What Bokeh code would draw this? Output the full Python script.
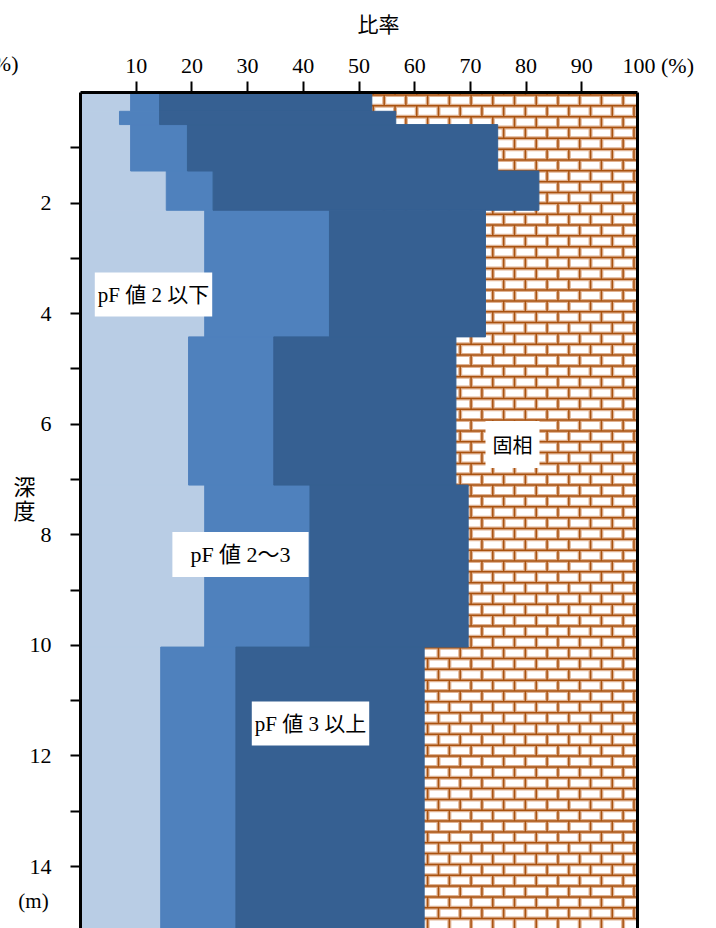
import numpy as np
from bokeh.plotting import figure
from bokeh.models import Range1d, FixedTicker, LinearAxis, Label
from bokeh.embed import file_html
from bokeh.resources import INLINE

# ---------------- data ----------------
depth_top    = [0.00, 0.34, 0.58, 1.42, 2.13, 4.42, 7.10, 10.03]
depth_bottom = [0.34, 0.58, 1.42, 2.13, 4.42, 7.10, 10.03, 15.50]
pf_le2   = [9.0, 7.0, 9.0, 15.4, 22.3, 19.4, 22.3, 14.4]    # pF 値 2 以下
pf_2to3  = [5.2, 7.2, 10.2, 8.4, 22.4, 15.3, 18.9, 13.5]    # pF 値 2～3
pf_ge3   = [38.1, 42.4, 55.7, 58.5, 28.0, 32.7, 28.4, 33.8] # pF 値 3 以上
solid    = [47.8, 43.4, 25.1, 17.6, 27.3, 32.7, 30.5, 38.4] # 固相

layer_names = ["pF 値 2 以下", "pF 値 2～3", "pF 値 3 以上", "固相"]
x_ticks = [10, 20, 30, 40, 50, 60, 70, 80, 90]
y_major = [2, 4, 6, 8, 10, 12, 14]
y_minor = [1, 3, 5, 7, 9, 11, 13]

# ---------------- layout / styling ----------------
W, H = 716, 928
PX_L, PX_T, PX_R = 80, 92, 637           # plot box in canvas pixels
X0, X1 = 0, 100                          # ratio axis
DEPTH_MAX = 15.12                        # depth at bottom of the window
sx = (PX_R - PX_L) / (X1 - X0)           # px per %
sy = (H - PX_T) / DEPTH_MAX              # px per m

def dx(px):  # canvas px -> data x
    return X0 + (px - PX_L) / sx

def dy(py):  # canvas px -> data depth
    return (py - PX_T) / sy

colors = ["#B9CDE5", "#4F81BD", "#366092"]
SERIF = "Liberation Serif, Noto Sans CJK JP"
CJK = "Noto Sans CJK JP"

p = figure(width=W, height=H, title=None,
           x_range=Range1d(dx(0), dx(W)), y_range=Range1d(dy(H), dy(0)),
           x_axis_location="above",
           output_backend="svg", toolbar_location=None,
           min_border_left=0, min_border_top=0,
           min_border_right=0, min_border_bottom=0)
p.outline_line_color = None
p.grid.visible = False
p.background_fill_color = "white"
p.border_fill_color = "white"

arr = np.array([pf_le2, pf_2to3, pf_ge3, solid], dtype=float)
right = np.minimum(np.cumsum(arr, axis=0), X1)
left = np.vstack([np.zeros(arr.shape[1]), right[:-1]])
bottom = np.minimum(depth_bottom, DEPTH_MAX)

# solid phase (white base, brick pattern drawn over it)
p.quad(left=left[3], right=right[3], top=depth_top, bottom=bottom,
       fill_color="white", line_color=None)

# brick pattern (fill texture of the solid phase)
brick_h = 0.196
brick_w = 3.9
phase_y = 0.045
phase_x = 1.87
x_start = float(np.min(right[2])) - 1
ks = np.arange(0, int(DEPTH_MAX / brick_h) + 2)
hy = phase_y + ks * brick_h
vx0, vy0, vy1 = [], [], []
for k, y in zip(ks, hy):
    off = phase_x if k % 2 == 0 else phase_x + brick_w / 2
    xs = off + brick_w * np.arange(-2, int(100 / brick_w) + 3)
    xs = xs[(xs >= x_start) & (xs <= X1 - 0.3)]
    vx0.extend(xs)
    vy0.extend([max(y - brick_h, 0)] * len(xs))
    vy1.extend([min(y, DEPTH_MAX)] * len(xs))
hy = hy[hy <= DEPTH_MAX]
hx0 = np.full(len(hy), x_start)
hx1 = np.full(len(hy), float(X1))
for lc, lw in (("#E0B292", 4.0), ("#A9520F", 1.5)):
    p.segment(x0=hx0, y0=hy, x1=hx1, y1=hy, line_color=lc, line_width=lw)
    p.segment(x0=vx0, y0=vy0, x1=vx0, y1=vy1, line_color=lc, line_width=lw)

# blue layers
for i in range(3):
    p.quad(left=left[i], right=right[i], top=depth_top, bottom=bottom,
           fill_color=colors[i], line_color=colors[i], line_width=1)

# ---------------- axes ----------------
xa = p.xaxis[0]
xa.fixed_location = 0
xa.bounds = (X0, X1)
xa.ticker = FixedTicker(ticks=x_ticks, minor_ticks=[])
xa.axis_line_width = 3
xa.axis_line_color = "black"
xa.major_tick_out = 11
xa.major_tick_in = 0
xa.minor_tick_out = 0
xa.minor_tick_in = 0
xa.major_tick_line_width = 2
xa.major_label_standoff = 9
xa.major_label_text_font = SERIF
xa.major_label_text_font_size = "22px"
xa.major_label_text_color = "black"

ya = p.yaxis[0]
ya.fixed_location = X0
ya.bounds = (0, DEPTH_MAX)
ya.ticker = FixedTicker(ticks=y_major, minor_ticks=y_minor)
ya.axis_line_width = 3
ya.axis_line_color = "black"
ya.major_tick_out = 10
ya.major_tick_in = 0
ya.minor_tick_out = 10
ya.minor_tick_in = 0
ya.major_tick_line_width = 2
ya.minor_tick_line_width = 2
ya.minor_tick_line_color = "black"
ya.major_label_standoff = 19
ya.major_label_text_font = SERIF
ya.major_label_text_font_size = "22px"
ya.major_label_text_color = "black"

ra = LinearAxis(ticker=FixedTicker(ticks=[], minor_ticks=[]),
                fixed_location=X1, bounds=(0, DEPTH_MAX),
                axis_line_width=3, axis_line_color="black",
                major_tick_out=0, minor_tick_out=0,
                major_label_text_font_size="0px")
p.add_layout(ra, "right")

# ---------------- texts ----------------
def add_label(x, y, text, font, size, align="center", bg=None, pad=None):
    kw = dict(x=x, y=y, text=text, text_font=font, text_font_size=size,
              text_align=align, text_baseline="middle", text_color="black")
    if bg is not None:
        kw["background_fill_color"] = bg
    if pad is not None:
        kw["padding"] = pad
    lab = Label(**kw)
    p.add_layout(lab)
    return lab

# layer labels with white boxes
add_label(dx(153), dy(294), layer_names[0], SERIF, "21px", bg="white", pad=(3, 10))
add_label(dx(240), dy(554), layer_names[1], SERIF, "22px", bg="white", pad=(18, 10))
add_label(dx(310), dy(723), layer_names[2], SERIF, "21px", bg="white", pad=(3, 10))
add_label(dx(512), dy(444), layer_names[3], CJK, "20px", bg="white", pad=(7, 9))

# axis titles / units
add_label(dx(378), dy(22), "比率", CJK, "21px")
add_label(dx(622), dy(65), "100 (%)", SERIF, "22px", align="left")
add_label(dx(18), dy(63), "(%)", SERIF, "22px", align="right")
add_label(dx(24), dy(484), "深", CJK, "22px")
add_label(dx(24), dy(508), "度", CJK, "22px")
add_label(dx(33), dy(900), "(m)", SERIF, "21px")

open("out.html", "w").write(file_html(p, INLINE))
